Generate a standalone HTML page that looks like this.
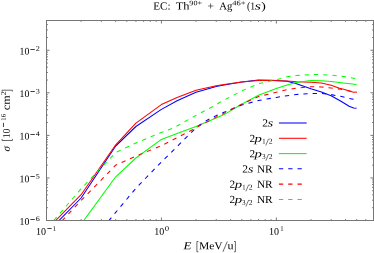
<!DOCTYPE html>
<html><head><meta charset="utf-8"><title>EC</title>
<style>
html,body{margin:0;padding:0;background:#fff;}
body{width:374px;height:253px;overflow:hidden;}
svg{display:block;}
text{font-family:"Liberation Serif",serif;fill:#000;white-space:pre;text-rendering:geometricPrecision;}
</style></head><body>
<svg width="374" height="253" viewBox="0 0 374 253">
<defs><clipPath id="c"><rect x="46.5" y="20.5" width="327.0" height="200.0"/></clipPath></defs>
<g clip-path="url(#c)" fill="none" stroke-width="1.05" stroke-linejoin="round">
<path d="M46.5 233.3 L81.1 198.0 L115.7 146.0 L135.9 126.5 L161.4 109.4 L177.1 100.8 L196.0 92.3 L216.2 86.6 L224.0 85.1 L241.7 82.1 L258.5 79.9 L271.4 80.2 L287.1 81.3 L296.5 83.7 L310.9 88.8 L321.4 92.1 L331.1 95.7 L341.4 101.5 L349.1 106.3 L353.6 108.1 L356.6 108.3" stroke="#0000ff"/>
<path d="M46.5 229.9 L81.1 194.7 L115.7 144.8 L135.9 123.1 L161.4 104.6 L177.1 97.4 L196.0 90.2 L216.2 85.8 L224.0 84.6 L241.7 82.0 L258.5 80.5 L271.4 80.5 L287.1 81.1 L296.5 81.8 L310.9 82.3 L321.4 83.0 L331.1 85.2 L338.8 87.9 L345.5 89.7 L349.1 91.1 L353.6 92.2 L356.6 92.0" stroke="#ff0000"/>
<path d="M46.5 272.3 L81.1 224.2 L115.7 176.8 L135.9 158.0 L161.4 139.4 L177.1 133.4 L196.0 126.5 L216.2 118.0 L224.0 114.6 L241.7 104.2 L258.5 95.3 L276.3 88.6 L287.1 85.1 L296.5 82.5 L310.9 80.6 L321.4 80.8 L331.1 81.5 L345.5 83.2 L356.6 84.5" stroke="#00ff00"/>
<path d="M100.0 231.1 L109.5 219.8 L115.7 212.4 L135.9 188.3 L161.4 161.9 L196.0 128.0 L199.4 125.3 L207.1 120.2 L216.2 115.6 L224.0 112.3 L241.7 105.1 L258.5 100.5 L276.3 97.4 L287.1 95.7 L296.5 94.5 L310.9 93.5 L321.4 93.5 L331.1 94.6 L341.7 96.6 L352.0 99.0 L356.6 100.0" stroke="#0000ff" stroke-dasharray="4.3 5" stroke-dashoffset="5.26"/>
<path d="M46.5 237.2 L81.1 200.5 L115.7 165.2 L135.9 156.1 L161.4 145.7 L196.0 128.0 L199.4 125.7 L207.1 121.9 L216.2 117.0 L224.0 113.4 L232.0 109.0 L241.7 104.2 L258.5 96.5 L276.3 92.3 L287.1 89.7 L296.5 88.0 L310.9 86.8 L321.4 86.9 L331.1 88.0 L340.8 89.3 L352.8 91.7 L356.6 92.4" stroke="#ff0000" stroke-dasharray="4.3 5" stroke-dashoffset="5.28"/>
<path d="M46.5 228.9 L81.1 188.8 L115.7 152.5 L135.9 143.0 L161.4 132.4 L174.0 127.7 L196.0 115.4 L216.2 104.8 L220.0 102.2 L241.7 90.9 L258.5 83.7 L276.3 79.8 L287.1 76.8 L296.5 75.6 L310.9 74.5 L321.4 74.6 L331.1 75.2 L345.5 76.8 L355.4 78.6 L356.6 78.8" stroke="#00ff00" stroke-dasharray="4.3 5" stroke-dashoffset="7.31"/>
</g>
<g fill="none" stroke-width="1.05">
<path d="M278.9 123.0 H306.7" stroke="#0000ff"/>
<path d="M278.9 138.3 H306.7" stroke="#ff0000"/>
<path d="M278.9 153.6 H306.7" stroke="#00ff00"/>
<path d="M278.9 168.8 H306.7" stroke="#0000ff" stroke-dasharray="4.3 5"/>
<path d="M278.9 184.1 H306.7" stroke="#ff0000" stroke-dasharray="4.3 5"/>
<path d="M278.9 199.4 H306.7" stroke="#00ff00" stroke-dasharray="4.3 5"/>
</g>
<path d="M81.10 220.50 v-1.40 M81.10 20.50 v1.40 M101.34 220.50 v-1.40 M101.34 20.50 v1.40 M115.70 220.50 v-1.40 M115.70 20.50 v1.40 M126.84 220.50 v-1.40 M126.84 20.50 v1.40 M135.94 220.50 v-1.40 M135.94 20.50 v1.40 M143.63 220.50 v-1.40 M143.63 20.50 v1.40 M150.30 220.50 v-1.40 M150.30 20.50 v1.40 M156.18 220.50 v-1.40 M156.18 20.50 v1.40 M161.43 220.50 v-3.00 M161.43 20.50 v3.00 M196.03 220.50 v-1.40 M196.03 20.50 v1.40 M216.27 220.50 v-1.40 M216.27 20.50 v1.40 M230.63 220.50 v-1.40 M230.63 20.50 v1.40 M241.77 220.50 v-1.40 M241.77 20.50 v1.40 M250.87 220.50 v-1.40 M250.87 20.50 v1.40 M258.57 220.50 v-1.40 M258.57 20.50 v1.40 M265.23 220.50 v-1.40 M265.23 20.50 v1.40 M271.11 220.50 v-1.40 M271.11 20.50 v1.40 M276.37 220.50 v-3.00 M276.37 20.50 v3.00 M310.97 220.50 v-1.40 M310.97 20.50 v1.40 M331.21 220.50 v-1.40 M331.21 20.50 v1.40 M345.57 220.50 v-1.40 M345.57 20.50 v1.40 M356.70 220.50 v-1.40 M356.70 20.50 v1.40 M365.81 220.50 v-1.40 M365.81 20.50 v1.40 M46.50 207.69 h1.40 M373.50 207.69 h-1.40 M46.50 200.19 h1.40 M373.50 200.19 h-1.40 M46.50 194.87 h1.40 M373.50 194.87 h-1.40 M46.50 190.75 h1.40 M373.50 190.75 h-1.40 M46.50 187.38 h1.40 M373.50 187.38 h-1.40 M46.50 184.53 h1.40 M373.50 184.53 h-1.40 M46.50 182.06 h1.40 M373.50 182.06 h-1.40 M46.50 179.89 h1.40 M373.50 179.89 h-1.40 M46.50 177.94 h3.00 M373.50 177.94 h-3.00 M46.50 165.12 h1.40 M373.50 165.12 h-1.40 M46.50 157.63 h1.40 M373.50 157.63 h-1.40 M46.50 152.31 h1.40 M373.50 152.31 h-1.40 M46.50 148.19 h1.40 M373.50 148.19 h-1.40 M46.50 144.82 h1.40 M373.50 144.82 h-1.40 M46.50 141.97 h1.40 M373.50 141.97 h-1.40 M46.50 139.50 h1.40 M373.50 139.50 h-1.40 M46.50 137.32 h1.40 M373.50 137.32 h-1.40 M46.50 135.37 h3.00 M373.50 135.37 h-3.00 M46.50 122.56 h1.40 M373.50 122.56 h-1.40 M46.50 115.07 h1.40 M373.50 115.07 h-1.40 M46.50 109.75 h1.40 M373.50 109.75 h-1.40 M46.50 105.63 h1.40 M373.50 105.63 h-1.40 M46.50 102.25 h1.40 M373.50 102.25 h-1.40 M46.50 99.41 h1.40 M373.50 99.41 h-1.40 M46.50 96.94 h1.40 M373.50 96.94 h-1.40 M46.50 94.76 h1.40 M373.50 94.76 h-1.40 M46.50 92.81 h3.00 M373.50 92.81 h-3.00 M46.50 80.00 h1.40 M373.50 80.00 h-1.40 M46.50 72.50 h1.40 M373.50 72.50 h-1.40 M46.50 67.19 h1.40 M373.50 67.19 h-1.40 M46.50 63.06 h1.40 M373.50 63.06 h-1.40 M46.50 59.69 h1.40 M373.50 59.69 h-1.40 M46.50 56.84 h1.40 M373.50 56.84 h-1.40 M46.50 54.37 h1.40 M373.50 54.37 h-1.40 M46.50 52.20 h1.40 M373.50 52.20 h-1.40 M46.50 50.25 h3.00 M373.50 50.25 h-3.00 M46.50 37.44 h1.40 M373.50 37.44 h-1.40 M46.50 29.94 h1.40 M373.50 29.94 h-1.40 M46.50 24.62 h1.40 M373.50 24.62 h-1.40" stroke="#777" stroke-width="1" fill="none"/>
<rect x="46.5" y="20.5" width="327.0" height="200.0" fill="none" stroke="#777" stroke-width="1"/>
<g style="filter:grayscale(1)">
<text x="153.22" y="9.45" style="font-size:10.8px" textLength="17.36" lengthAdjust="spacingAndGlyphs" transform="rotate(0.05 153.22 9.45)">EC:</text>
<text x="175.82" y="9.45" style="font-size:10.8px" textLength="13.76" lengthAdjust="spacingAndGlyphs" transform="rotate(0.05 175.82 9.45)">Th</text>
<text x="189.36" y="5.35" style="font-size:6.9px" textLength="12.88" lengthAdjust="spacingAndGlyphs" transform="rotate(0.05 189.36 5.35)">90+</text>
<text x="207.42" y="9.45" style="font-size:10.8px" textLength="6.56" lengthAdjust="spacingAndGlyphs" transform="rotate(0.05 207.42 9.45)">+</text>
<text x="219.22" y="9.45" style="font-size:10.8px" textLength="13.06" lengthAdjust="spacingAndGlyphs" transform="rotate(0.05 219.22 9.45)">Ag</text>
<text x="232.26" y="5.35" style="font-size:6.9px" textLength="13.28" lengthAdjust="spacingAndGlyphs" transform="rotate(0.05 232.26 5.35)">46+</text>
<text x="246.92" y="9.45" style="font-size:10.8px" textLength="8.06" lengthAdjust="spacingAndGlyphs" transform="rotate(0.05 246.92 9.45)">(1</text>
<text x="254.82" y="9.45" style="font-size:10.8px" font-style="italic" textLength="6.16" lengthAdjust="spacingAndGlyphs" transform="rotate(0.05 254.82 9.45)">s</text>
<text x="261.22" y="9.45" style="font-size:10.8px" textLength="4.56" lengthAdjust="spacingAndGlyphs" transform="rotate(0.05 261.22 9.45)">)</text>
<text x="19.50" y="54.45" style="font-size:10.1px" textLength="9.86" lengthAdjust="spacingAndGlyphs" transform="rotate(0.05 19.50 54.45)">10</text>
<path d="M30.40 49.50 H34.80" stroke="#000" stroke-width="0.75" fill="none"/>
<text x="35.76" y="50.85" style="font-size:6.9px" textLength="4.08" lengthAdjust="spacingAndGlyphs" transform="rotate(0.05 35.76 50.85)">2</text>
<text x="19.50" y="97.01" style="font-size:10.1px" textLength="9.86" lengthAdjust="spacingAndGlyphs" transform="rotate(0.05 19.50 97.01)">10</text>
<path d="M30.40 91.50 H34.80" stroke="#000" stroke-width="0.75" fill="none"/>
<text x="35.76" y="93.41" style="font-size:6.9px" textLength="4.08" lengthAdjust="spacingAndGlyphs" transform="rotate(0.05 35.76 93.41)">3</text>
<text x="19.50" y="139.57" style="font-size:10.1px" textLength="9.86" lengthAdjust="spacingAndGlyphs" transform="rotate(0.05 19.50 139.57)">10</text>
<path d="M30.40 134.50 H34.80" stroke="#000" stroke-width="0.75" fill="none"/>
<text x="35.76" y="135.97" style="font-size:6.9px" textLength="4.08" lengthAdjust="spacingAndGlyphs" transform="rotate(0.05 35.76 135.97)">4</text>
<text x="19.50" y="182.14" style="font-size:10.1px" textLength="9.86" lengthAdjust="spacingAndGlyphs" transform="rotate(0.05 19.50 182.14)">10</text>
<path d="M30.40 176.50 H34.80" stroke="#000" stroke-width="0.75" fill="none"/>
<text x="35.76" y="178.54" style="font-size:6.9px" textLength="4.08" lengthAdjust="spacingAndGlyphs" transform="rotate(0.05 35.76 178.54)">5</text>
<text x="19.50" y="224.70" style="font-size:10.1px" textLength="9.86" lengthAdjust="spacingAndGlyphs" transform="rotate(0.05 19.50 224.70)">10</text>
<path d="M30.40 219.50 H34.80" stroke="#000" stroke-width="0.75" fill="none"/>
<text x="35.76" y="221.10" style="font-size:6.9px" textLength="4.08" lengthAdjust="spacingAndGlyphs" transform="rotate(0.05 35.76 221.10)">6</text>
<text x="35.95" y="234.80" style="font-size:10.1px" textLength="10.01" lengthAdjust="spacingAndGlyphs" transform="rotate(0.05 35.95 234.80)">10</text>
<path d="M47.30 228.50 H51.65" stroke="#000" stroke-width="0.75" fill="none"/>
<text x="52.76" y="230.70" style="font-size:6.9px" textLength="3.28" lengthAdjust="spacingAndGlyphs" transform="rotate(0.05 52.76 230.70)">1</text>
<text x="154.15" y="234.80" style="font-size:10.1px" textLength="10.01" lengthAdjust="spacingAndGlyphs" transform="rotate(0.05 154.15 234.80)">10</text>
<text x="164.76" y="230.70" style="font-size:6.9px" textLength="4.38" lengthAdjust="spacingAndGlyphs" transform="rotate(0.05 164.76 230.70)">0</text>
<text x="269.05" y="234.80" style="font-size:10.1px" textLength="10.01" lengthAdjust="spacingAndGlyphs" transform="rotate(0.05 269.05 234.80)">10</text>
<text x="280.26" y="230.70" style="font-size:6.9px" textLength="3.38" lengthAdjust="spacingAndGlyphs" transform="rotate(0.05 280.26 230.70)">1</text>
<text x="183.62" y="249.20" style="font-size:10.8px" font-style="italic" textLength="7.96" lengthAdjust="spacingAndGlyphs" transform="rotate(0.05 183.62 249.20)">E</text>
<path d="M198.40 241.50 H196.90 V251.80 H198.40" stroke="#000" stroke-width="0.6" fill="none"/>
<text x="198.92" y="249.20" style="font-size:10.8px" textLength="23.76" lengthAdjust="spacingAndGlyphs" transform="rotate(0.05 198.92 249.20)">MeV</text>
<path d="M222.90 251.80 L227.30 241.50" stroke="#000" stroke-width="0.6" fill="none"/>
<text x="227.52" y="249.20" style="font-size:10.8px" textLength="6.06" lengthAdjust="spacingAndGlyphs" transform="rotate(0.05 227.52 249.20)">u</text>
<path d="M234.00 241.50 H235.40 V251.80 H234.00" stroke="#000" stroke-width="0.6" fill="none"/>
<g transform="translate(9.8 151.2) rotate(-90.05)"><text x="-0.38" y="0.00" style="font-size:10.8px" font-style="italic" textLength="5.46" lengthAdjust="spacingAndGlyphs">&#963;</text><path d="M12.30 -7.70 H10.70 V2.60 H12.30" stroke="#000" stroke-width="0.6" fill="none"/><text x="12.85" y="0.00" style="font-size:10.1px" textLength="9.91" lengthAdjust="spacingAndGlyphs">10</text><path d="M24.20 -6.30 H28.40" stroke="#000" stroke-width="0.75" fill="none"/><text x="30.46" y="-4.10" style="font-size:6.9px" textLength="6.88" lengthAdjust="spacingAndGlyphs">16</text><text x="40.92" y="0.00" style="font-size:10.8px" textLength="14.96" lengthAdjust="spacingAndGlyphs">cm</text><text x="55.96" y="-4.10" style="font-size:6.9px" textLength="4.08" lengthAdjust="spacingAndGlyphs">2</text><path d="M59.60 -7.70 H61.00 V2.60 H59.60" stroke="#000" stroke-width="0.6" fill="none"/></g>
<text x="262.22" y="126.60" style="font-size:10.8px" textLength="5.76" lengthAdjust="spacingAndGlyphs" transform="rotate(0.05 262.22 126.60)">2</text>
<text x="267.82" y="126.60" style="font-size:10.8px" font-style="italic" textLength="5.36" lengthAdjust="spacingAndGlyphs" transform="rotate(0.05 267.82 126.60)">s</text>
<text x="249.47" y="141.88" style="font-size:10.8px" textLength="5.61" lengthAdjust="spacingAndGlyphs" transform="rotate(0.05 249.47 141.88)">2</text>
<text x="254.62" y="141.88" style="font-size:10.8px" font-style="italic" textLength="7.36" lengthAdjust="spacingAndGlyphs" transform="rotate(0.05 254.62 141.88)">p</text>
<text x="262.24" y="143.58" style="font-size:7.3px" textLength="3.31" lengthAdjust="spacingAndGlyphs" transform="rotate(0.05 262.24 143.58)">1</text>
<path d="M265.80 145.48 L268.60 138.78" stroke="#000" stroke-width="0.55" fill="none"/>
<text x="268.74" y="143.58" style="font-size:7.3px" textLength="3.81" lengthAdjust="spacingAndGlyphs" transform="rotate(0.05 268.74 143.58)">2</text>
<text x="249.47" y="157.16" style="font-size:10.8px" textLength="5.61" lengthAdjust="spacingAndGlyphs" transform="rotate(0.05 249.47 157.16)">2</text>
<text x="254.62" y="157.16" style="font-size:10.8px" font-style="italic" textLength="7.36" lengthAdjust="spacingAndGlyphs" transform="rotate(0.05 254.62 157.16)">p</text>
<text x="262.24" y="158.86" style="font-size:7.3px" textLength="3.31" lengthAdjust="spacingAndGlyphs" transform="rotate(0.05 262.24 158.86)">3</text>
<path d="M265.80 160.76 L268.60 154.06" stroke="#000" stroke-width="0.55" fill="none"/>
<text x="268.74" y="158.86" style="font-size:7.3px" textLength="3.81" lengthAdjust="spacingAndGlyphs" transform="rotate(0.05 268.74 158.86)">2</text>
<text x="242.32" y="172.44" style="font-size:10.8px" textLength="5.76" lengthAdjust="spacingAndGlyphs" transform="rotate(0.05 242.32 172.44)">2</text>
<text x="247.92" y="172.44" style="font-size:10.8px" font-style="italic" textLength="5.36" lengthAdjust="spacingAndGlyphs" transform="rotate(0.05 247.92 172.44)">s</text>
<text x="256.92" y="172.44" style="font-size:10.8px" textLength="15.76" lengthAdjust="spacingAndGlyphs" transform="rotate(0.05 256.92 172.44)">NR</text>
<text x="229.57" y="187.72" style="font-size:10.8px" textLength="5.61" lengthAdjust="spacingAndGlyphs" transform="rotate(0.05 229.57 187.72)">2</text>
<text x="234.72" y="187.72" style="font-size:10.8px" font-style="italic" textLength="7.36" lengthAdjust="spacingAndGlyphs" transform="rotate(0.05 234.72 187.72)">p</text>
<text x="242.34" y="189.42" style="font-size:7.3px" textLength="3.31" lengthAdjust="spacingAndGlyphs" transform="rotate(0.05 242.34 189.42)">1</text>
<path d="M245.90 191.32 L248.70 184.62" stroke="#000" stroke-width="0.55" fill="none"/>
<text x="248.84" y="189.42" style="font-size:7.3px" textLength="3.81" lengthAdjust="spacingAndGlyphs" transform="rotate(0.05 248.84 189.42)">2</text>
<text x="256.92" y="187.72" style="font-size:10.8px" textLength="15.76" lengthAdjust="spacingAndGlyphs" transform="rotate(0.05 256.92 187.72)">NR</text>
<text x="229.57" y="203.00" style="font-size:10.8px" textLength="5.61" lengthAdjust="spacingAndGlyphs" transform="rotate(0.05 229.57 203.00)">2</text>
<text x="234.72" y="203.00" style="font-size:10.8px" font-style="italic" textLength="7.36" lengthAdjust="spacingAndGlyphs" transform="rotate(0.05 234.72 203.00)">p</text>
<text x="242.34" y="204.70" style="font-size:7.3px" textLength="3.31" lengthAdjust="spacingAndGlyphs" transform="rotate(0.05 242.34 204.70)">3</text>
<path d="M245.90 206.60 L248.70 199.90" stroke="#000" stroke-width="0.55" fill="none"/>
<text x="248.84" y="204.70" style="font-size:7.3px" textLength="3.81" lengthAdjust="spacingAndGlyphs" transform="rotate(0.05 248.84 204.70)">2</text>
<text x="256.92" y="203.00" style="font-size:10.8px" textLength="15.76" lengthAdjust="spacingAndGlyphs" transform="rotate(0.05 256.92 203.00)">NR</text>
</g>
</svg>
</body></html>
